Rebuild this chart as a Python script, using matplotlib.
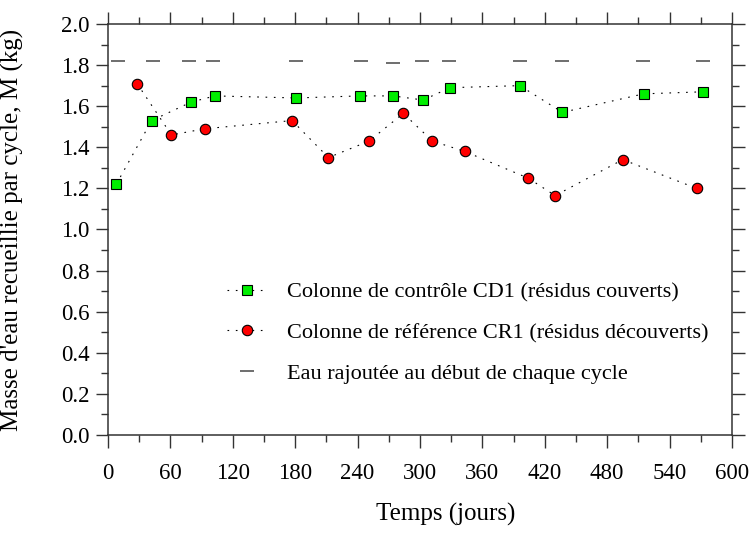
import matplotlib
matplotlib.use("Agg")
import matplotlib.pyplot as plt
from matplotlib.ticker import MultipleLocator, FormatStrFormatter

plt.rcParams['font.family'] = ['Liberation Serif', 'DejaVu Serif']

# Colonne de contrôle CD1 (résidus couverts)
cd1_days = [8, 42, 80, 103, 181, 242, 274, 303, 329, 396, 437, 515, 572]
cd1_mass = [1.22, 1.53, 1.62, 1.65, 1.64, 1.65, 1.65, 1.63, 1.69, 1.70, 1.57, 1.66, 1.67]

# Colonne de référence CR1 (résidus découverts)
cr1_days = [28, 61, 93, 177, 212, 251, 284, 312, 343, 404, 430, 495, 566]
cr1_mass = [1.71, 1.46, 1.49, 1.53, 1.35, 1.43, 1.565, 1.43, 1.38, 1.25, 1.165, 1.34, 1.20]

# Eau rajoutée au début de chaque cycle
water_days = [10, 43, 78, 101, 181, 243, 274, 302, 328, 396, 437, 514, 572]
water_mass = [1.82, 1.82, 1.82, 1.82, 1.82, 1.82, 1.81, 1.82, 1.82, 1.82, 1.82, 1.82, 1.82]

labels = ["Colonne de contrôle CD1 (résidus couverts)",
          "Colonne de référence CR1 (résidus découverts)",
          "Eau rajoutée au début de chaque cycle"]

fig = plt.figure(figsize=(7.54, 5.33), dpi=100)
ax = fig.add_axes([0.1432, 0.1839, 0.8276, 0.7711])

dots = (0, (1.5, 6))
ax.plot(cd1_days, cd1_mass, color='k', lw=0.8, linestyle=dots,
        marker='s', ms=6.5, mfc='#00ee00', mec='k', mew=0.8,
        label=labels[0])
ax.plot(cr1_days, cr1_mass, color='k', lw=0.8, linestyle=dots,
        marker='o', ms=7.5, mfc='#ff0000', mec='k', mew=0.8,
        label=labels[1])
ax.plot(water_days, water_mass, linestyle='none', marker='_', ms=10,
        mew=1.2, color='#555555', label=labels[2])

ax.set_xlim(0, 600)
ax.set_ylim(0, 2.0)
ax.xaxis.set_major_locator(MultipleLocator(60))
ax.xaxis.set_minor_locator(MultipleLocator(30))
ax.yaxis.set_major_locator(MultipleLocator(0.2))
ax.yaxis.set_minor_locator(MultipleLocator(0.1))
ax.yaxis.set_major_formatter(FormatStrFormatter('%.1f'))

for sp in ax.spines.values():
    sp.set_linewidth(1.1)
    sp.set_color('#333333')
ax.tick_params(which='both', direction='out', top=True, right=True,
               width=1.0, color='#333333')
ax.tick_params(which='major', length=9, labelsize=16.5)
ax.tick_params(which='minor', length=5)
ax.tick_params(axis='x', which='major', pad=11)
ax.tick_params(axis='y', which='major', pad=4)

ax.set_xlabel("Temps (jours)", fontsize=18)
ax.xaxis.set_label_coords(0.542, -0.165)
ax.set_ylabel("Masse d'eau recueillie par cycle, M (kg)", fontsize=18)
ax.yaxis.set_label_coords(-0.135, 0.5)

ax.legend(loc='upper left', bbox_to_anchor=(0.19, 0.372), frameon=False,
          fontsize=16, numpoints=1, handlelength=1.8, handletextpad=0.9,
          labelspacing=0.9, borderpad=0, borderaxespad=0)

fig.savefig("out.png", dpi=100)
